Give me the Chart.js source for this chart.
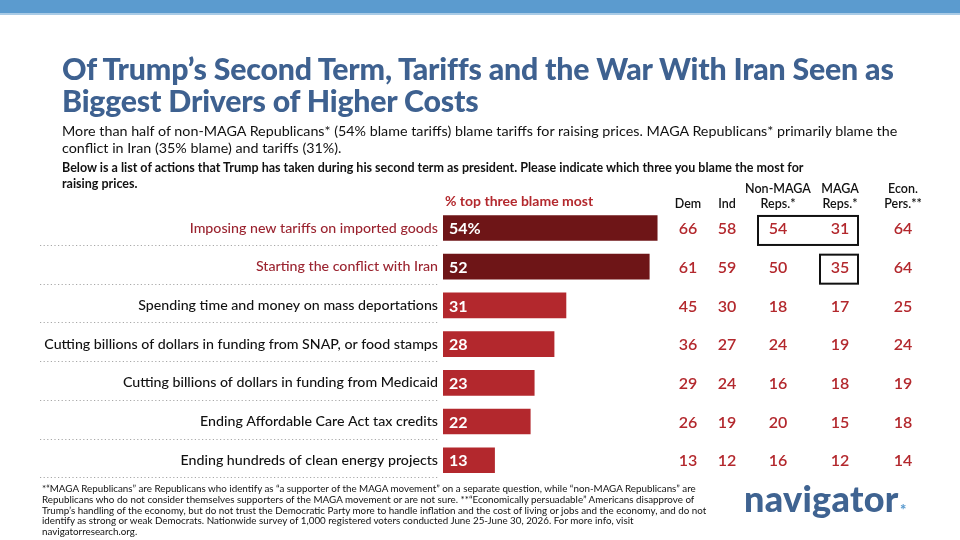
<!DOCTYPE html>
<html>
<head>
<meta charset="utf-8">
<script src="https://cdn.jsdelivr.net/npm/chart.js@4"></script>
<style>
  body { margin: 0; width: 960px; height: 540px; position: relative; overflow: hidden; background: #fff; font-family: Lato, sans-serif; }
  .topbar { position: absolute; left: 0; top: 0; width: 960px; height: 13px; background: #5b9bcf; border-bottom: 2px solid #a9cbe6; }
  #chart { position: absolute; left: 0; top: 0; }
  .title { position: absolute; left: 62px; top: 52px; white-space: nowrap; font-size: 30.3px; line-height: 32px; font-weight: 900; color: #3e6190; letter-spacing: -0.2px; }
  .sub { position: absolute; left: 62px; top: 122px; white-space: nowrap; font-size: 14.3px; line-height: 17px; color: #111; }
  .question { position: absolute; left: 62px; top: 160px; white-space: nowrap; font-size: 12.5px; line-height: 16px; font-weight: 700; color: #111; }
  .foot { position: absolute; left: 42px; top: 483px; white-space: nowrap; font-size: 9.8px; line-height: 10.8px; color: #111; }
  .logo { position: absolute; left: 744px; top: 476px; font-size: 36px; font-weight: 900; color: #3f6391; letter-spacing: 0.3px; }
  .star { position: absolute; left: 900px; top: 500px; font-size: 15px; font-weight: 900; color: #5b9bcf; }
</style>
</head>
<body>
<div class="topbar"></div>
<canvas id="chart" width="960" height="540"></canvas>
<div class="title">Of Trump’s Second Term, Tariffs and the War With Iran Seen as<br>Biggest Drivers of Higher Costs</div>
<div class="sub">More than half of non-MAGA Republicans* (54% blame tariffs) blame tariffs for raising prices. MAGA Republicans* primarily blame the<br>conflict in Iran (35% blame) and tariffs (31%).</div>
<div class="question">Below is a list of actions that Trump has taken during his second term as president. Please indicate which three you blame the most for<br>raising prices.</div>
<div class="foot">*“MAGA Republicans” are Republicans who identify as “a supporter of the MAGA movement” on a separate question, while “non-MAGA Republicans” are<br>Republicans who do not consider themselves supporters of the MAGA movement or are not sure. **“Economically persuadable” Americans disapprove of<br>Trump’s handling of the economy, but do not trust the Democratic Party more to handle inflation and the cost of living or jobs and the economy, and do not<br>identify as strong or weak Democrats. Nationwide survey of 1,000 registered voters conducted June 25-June 30, 2026. For more info, visit<br>navigatorresearch.org.</div>
<div class="logo">navigator</div>
<div class="star">*</div>
<script>
const categories = [
    "Imposing new tariffs on imported goods",
    "Starting the conflict with Iran",
    "Spending time and money on mass deportations",
    "Cutting billions of dollars in funding from SNAP, or food stamps",
    "Cutting billions of dollars in funding from Medicaid",
    "Ending Affordable Care Act tax credits",
    "Ending hundreds of clean energy projects"
];
const topThree = [54, 52, 31, 28, 23, 22, 13];
const dem = [66, 61, 45, 36, 29, 26, 13];
const ind = [58, 59, 30, 27, 24, 19, 12];
const nonMagaReps = [54, 50, 18, 24, 16, 20, 16];
const magaReps = [31, 35, 17, 19, 18, 15, 12];
const econPers = [64, 64, 25, 24, 19, 18, 14];
const columnHeaders = [["Dem"], ["Ind"], ["Non-MAGA", "Reps.*"], ["MAGA", "Reps.*"], ["Econ.", "Pers.**"]];
// highlighted cells: row, first column, last column
const boxedCells = [[0, 2, 3], [1, 3, 3]];

const darkRed = "#6e1517";
const red = "#b3282d";
const columns = [dem, ind, nonMagaReps, magaReps, econPers];
const columnX = [688, 727, 778, 840, 903];

const tablePlugin = {
    id: "table",
    afterDatasetsDraw(chart) {
        const { ctx, scales: { y }, chartArea } = chart;
        const meta = chart.getDatasetMeta(0);
        ctx.save();

        // dotted separators
        ctx.strokeStyle = "#a8a8a8";
        ctx.lineWidth = 1.2;
        ctx.setLineDash([1.2, 2.4]);
        categories.forEach((c, i) => {
            const yy = Math.round(y.getPixelForValue(i) + 17) + 0.5;
            ctx.beginPath();
            ctx.moveTo(40, yy);
            ctx.lineTo(438, yy);
            ctx.stroke();
        });
        ctx.setLineDash([]);

        // values on bars
        ctx.fillStyle = "#fff";
        ctx.font = "bold 16px Lato";
        ctx.textBaseline = "middle";
        ctx.textAlign = "left";
        meta.data.forEach((bar, i) => {
            const txt = i === 0 ? topThree[i] + "%" : String(topThree[i]);
            ctx.fillText(txt, chartArea.left + 6, bar.y + 1);
        });

        // header over bars
        ctx.fillStyle = red;
        ctx.font = "bold 14px Lato";
        ctx.fillText("% top three blame most", 445, 201);

        // column headers
        ctx.fillStyle = "#111";
        ctx.font = "600 12.5px Lato";
        ctx.textAlign = "center";
        columnHeaders.forEach((lines, j) => {
            lines.forEach((t, k) => {
                const yy = 204 - (lines.length - 1 - k) * 15;
                ctx.fillText(t, columnX[j], yy);
            });
        });

        // table values
        ctx.fillStyle = red;
        ctx.font = "600 16px Lato";
        columns.forEach((col, j) => {
            col.forEach((v, i) => {
                ctx.fillText(String(v), columnX[j], y.getPixelForValue(i) + 1);
            });
        });

        // boxes
        ctx.strokeStyle = "#111";
        ctx.lineWidth = 2;
        boxedCells.forEach(([row, c0, c1]) => {
            const cy = y.getPixelForValue(row);
            const x0 = columnX[c0] - 20;
            const x1 = columnX[c1] + 18;
            ctx.strokeRect(x0, cy - 12, x1 - x0, 29);
        });
        ctx.restore();
    }
};

new Chart(document.getElementById("chart"), {
    type: "bar",
    data: {
        labels: categories,
        datasets: [{
            data: topThree,
            backgroundColor: topThree.map((v, i) => i < 2 ? darkRed : red),
            barThickness: 25
        }]
    },
    options: {
        indexAxis: "y",
        responsive: false,
        animation: false,
        layout: { padding: { top: 208.6, bottom: 60.4, left: 0, right: 279 } },
        plugins: { legend: { display: false }, tooltip: { enabled: false } },
        scales: {
            x: { display: false, min: 0, max: 60 },
            y: {
                grid: { display: false, drawTicks: false },
                border: { display: false },
                afterFit(scale) { scale.width = 443; },
                ticks: {
                    autoSkip: false,
                    padding: 5,
                    font: { family: "Lato", size: 14.2, weight: "500" },
                    color: (c) => c.index < 2 ? "#9b2430" : "#111"
                }
            }
        }
    },
    plugins: [tablePlugin]
});
</script>
</body>
</html>
